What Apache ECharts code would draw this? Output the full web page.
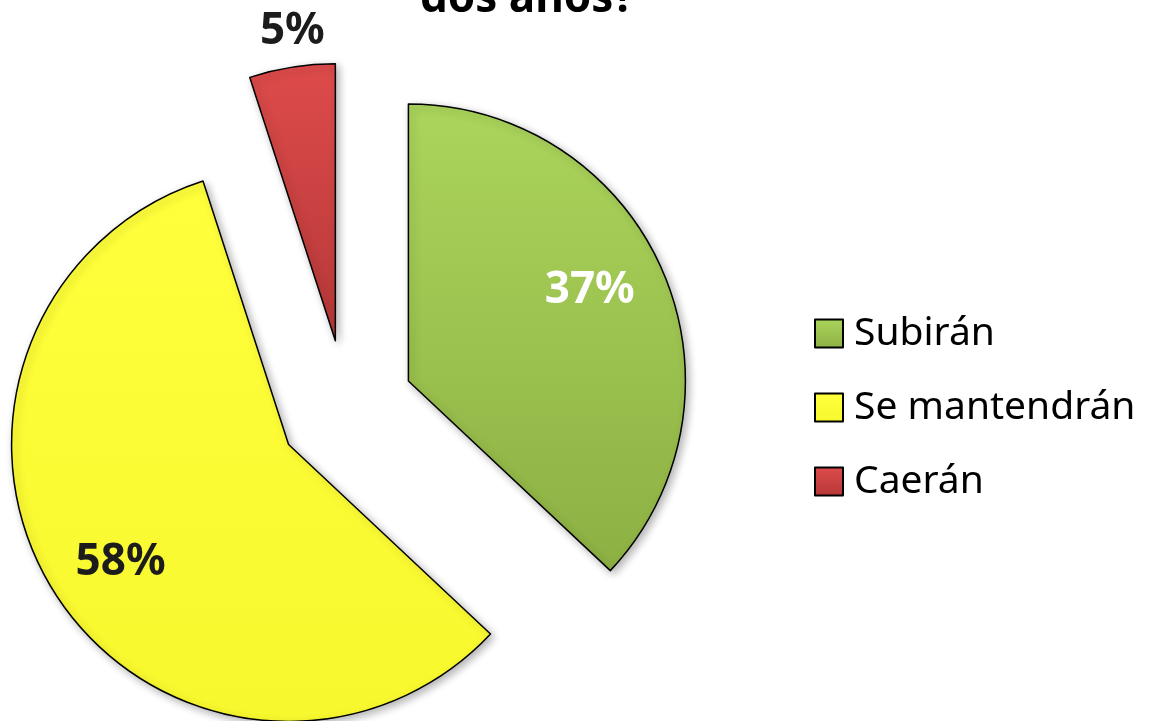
<!DOCTYPE html>
<html>
<head>
    <meta charset="UTF-8"/>
    <title>Precios</title>
    <style>
        html, body{
            margin: 0;
            background: #fff;
        }
    </style>
    <script src="https://cdn.jsdelivr.net/npm/echarts@6/dist/echarts.min.js"></script>
</head>
<body>
<div id="container" style="width: 1155px;height: 721px;"></div>

<script>
  // datos
  var categorias = ['Subirán', 'Se mantendrán', 'Caerán'];
  var porcentajes = [37, 58, 5];
  var titulo = 'dos años?';

  var colores = [
      ['#abd55c', '#8db043'],
      ['#ffff3c', '#f8f82e'],
      ['#de4b4b', '#b63838']
  ];
  var colorEtiqueta = ['#ffffff', '#1c1c1c', '#1c1c1c'];
  // pequeños ajustes de la etiqueta dentro de su sector
  var rellenoEtiqueta = [[0, 6, 0, 0], [0, 0, 0, 0], [4, 0, 0, 12]];

  var centro = [346, 408];
  var radio = 277;
  var desplazamiento = 68;
  var fuente = '"Noto Sans", "Open Sans", sans-serif';

  function degradado(c) {
      return new echarts.graphic.LinearGradient(0, 0, 0, 1, [
          {offset: 0, color: c[0]},
          {offset: 1, color: c[1]}
      ]);
  }

  var datosPie = categorias.map(function (nombre, i) {
      return {
          name: nombre,
          value: porcentajes[i],
          selected: true,
          itemStyle: {color: degradado(colores[i])}
      };
  });

  // series auxiliares solo para colocar las etiquetas
  function datosEtiqueta(mostrar) {
      return categorias.map(function (nombre, i) {
          return {
              name: nombre,
              value: porcentajes[i],
              selected: true,
              label: {show: mostrar[i], color: colorEtiqueta[i], padding: rellenoEtiqueta[i]}
          };
      });
  }

  var etiquetaBase = {
      position: 'inside',
      formatter: '{c}%',
      fontFamily: fuente,
      fontWeight: 'bold',
      fontSize: 44
  };

  var auxiliar = {
      type: 'pie',
      center: centro,
      startAngle: 90,
      selectedMode: 'multiple',
      selectedOffset: desplazamiento,
      silent: true,
      legendHoverLink: false,
      emphasis: {disabled: true},
      itemStyle: {color: 'rgba(0,0,0,0)', borderWidth: 0},
      labelLine: {show: false},
      label: etiquetaBase
  };

  var dom = document.getElementById("container");
  var myChart = echarts.init(dom);
  var option = {
      animation: false,
      title: {
          text: titulo,
          left: 420,
          top: -23,
          padding: 0,
          textStyle: {
              fontFamily: fuente,
              fontWeight: 'bold',
              fontSize: 44,
              lineHeight: 44,
              color: '#000'
          }
      },
      legend: {
          orient: 'vertical',
          left: 814,
          top: 314,
          padding: 0,
          itemWidth: 28,
          itemHeight: 28,
          itemGap: 35,
          icon: 'rect',
          data: categorias,
          textStyle: {
              fontFamily: fuente,
              fontSize: 39,
              color: '#000',
              padding: [0, 0, 0, 6]
          }
      },
      series: [
          {
              type: 'pie',
              center: centro,
              radius: [0, radio],
              startAngle: 90,
              selectedMode: 'multiple',
              selectedOffset: desplazamiento,
              silent: true,
              emphasis: {disabled: true},
              label: {show: false},
              labelLine: {show: false},
              itemStyle: {
                  borderColor: '#000',
                  borderWidth: 1.5,
                  shadowBlur: 8,
                  shadowOffsetX: 3,
                  shadowOffsetY: 3,
                  shadowColor: 'rgba(0,0,0,0.3)'
              },
              data: datosPie
          },
          Object.assign({}, auxiliar, {
              radius: [0, radio * 1.46],
              startAngle: 92,
              data: datosEtiqueta([true, true, false])
          }),
          Object.assign({}, auxiliar, {
              radius: [radio * 1.07, radio * 1.17],
              data: datosEtiqueta([false, false, true])
          })
      ]
  };
  myChart.setOption(option);
</script>

</body>
</html>
